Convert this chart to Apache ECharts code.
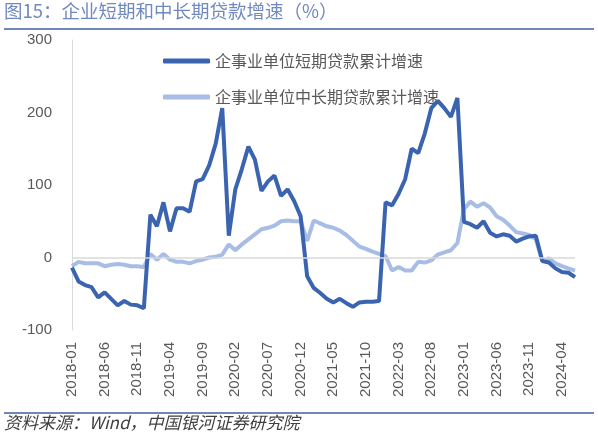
<!DOCTYPE html>
<html>
<head>
<meta charset="utf-8">
<script src="https://cdn.jsdelivr.net/npm/echarts@6/dist/echarts.min.js"></script>
<style>
html,body{margin:0;padding:0;background:#fff;}
#main{width:598px;height:433px;}
</style>
</head>
<body>
<div id="main"></div>
<script>
// 月份 2018-01 ~ 2024-06
var months = [];
for (var y = 2018; y <= 2024; y++) {
  for (var m = 1; m <= 12; m++) {
    if (y == 2024 && m > 6) break;
    months.push(y + '-' + (m < 10 ? '0' + m : m));
  }
}
var yTicks = [-100, 0, 100, 200, 300];

// 企事业单位短期贷款累计增速
var shortLoan = [
  -14, -33, -38, -41, -55, -48, -57, -66, -60, -65, -66, -70,
  59, 43, 76, 36, 68, 68, 63, 105, 108, 127, 157, 206,
  30, 94, 122, 153, 135, 92, 105, 113, 85, 94, 78, 57,
  -26, -42, -49, -57, -62, -57, -63, -68, -62, -61, -61, -60,
  76, 72, 88, 108, 150, 144, 171, 206, 216, 206, 194, 220,
  49, 46, 41, 50, 34, 29, 32, 30, 22, 26, 29, 30,
  -5, -7, -15, -20, -21, -27
];
// 企事业单位中长期贷款累计增速
var longLoan = [
  -12, -6, -8, -8, -8, -12, -10, -9, -10, -12, -12, -13,
  5, -3, 5, -3, -6, -6, -8, -5, -3, 0, 1, 4,
  18, 10, 18, 25, 32, 39, 41, 44, 50, 51, 50, 50,
  23, 51, 47, 43, 41, 37, 31, 23, 15, 12, 8, 5,
  2, -18, -13, -18, -18, -6, -7, -4, 4, 7, 10, 20,
  67, 77, 70, 75, 69, 57, 52, 44, 35, 33, 31, 25,
  -5, -1, -8, -12, -15, -18
];

var names = ['企事业单位短期贷款累计增速', '企事业单位中长期贷款累计增速'];
var darkBlue = '#3b64b0';
var lightBlue = '#a7bde6';
var axisGrey = '#d9d9d9';
var textGrey = '#595959';

var chart = echarts.init(document.getElementById('main'));

var option = {
  animation: false,
  backgroundColor: '#fff',
  title: {
    text: '图15：企业短期和中长期贷款增速（%）',
    left: 4,
    top: 2,
    padding: 0,
    textStyle: {
      color: '#7189bf',
      fontSize: 18.5,
      fontWeight: 'normal',
      fontFamily: 'Noto Sans CJK SC'
    }
  },
  graphic: [
    { type: 'rect', shape: { x: 4, y: 28, width: 590, height: 2 }, style: { fill: '#6f87b9' } },
    { type: 'rect', shape: { x: 4, y: 412, width: 590, height: 2 }, style: { fill: '#6f87b9' } },
    {
      type: 'text', left: 4, top: 414,
      style: {
        text: '资料来源：Wind，中国银河证券研究院',
        fill: '#404040',
        font: 'italic 17px "Noto Sans CJK SC"'
      }
    }
  ],
  legend: {
    orient: 'vertical',
    left: 163,
    top: 53,
    padding: 0,
    itemGap: 20,
    itemWidth: 47,
    itemHeight: 5,
    icon: 'roundRect',
    textStyle: {
      color: textGrey,
      fontSize: 16,
      fontFamily: 'Noto Sans CJK SC'
    },
    data: names
  },
  grid: {
    left: 72,
    right: 23,
    top: 40,
    bottom: 103
  },
  xAxis: {
    type: 'category',
    data: months,
    boundaryGap: false,
    axisLine: { show: false },
    axisTick: { show: false },
    axisLabel: {
      interval: 4,
      rotate: 90,
      margin: 12,
      color: textGrey,
      fontSize: 15,
      fontFamily: 'Liberation Sans'
    }
  },
  yAxis: {
    type: 'value',
    min: yTicks[0],
    max: yTicks[yTicks.length - 1],
    interval: 100,
    splitLine: { show: false },
    axisTick: { show: false },
    axisLine: { show: true, lineStyle: { color: axisGrey, width: 1 } },
    axisLabel: {
      margin: 20,
      color: textGrey,
      fontSize: 15,
      fontFamily: 'Liberation Sans'
    }
  },
  series: [
    {
      name: names[0],
      type: 'line',
      data: shortLoan,
      symbol: 'none',
      z: 3,
      itemStyle: { color: darkBlue },
      lineStyle: { color: darkBlue, width: 4 },
      markLine: {
        silent: true,
        symbol: 'none',
        label: { show: false },
        lineStyle: { color: axisGrey, width: 1.5, type: 'solid' },
        data: [{ yAxis: 0 }]
      }
    },
    {
      name: names[1],
      type: 'line',
      data: longLoan,
      symbol: 'none',
      z: 2,
      itemStyle: { color: lightBlue },
      lineStyle: { color: lightBlue, width: 4 }
    }
  ]
};

chart.setOption(option);
</script>
</body>
</html>
